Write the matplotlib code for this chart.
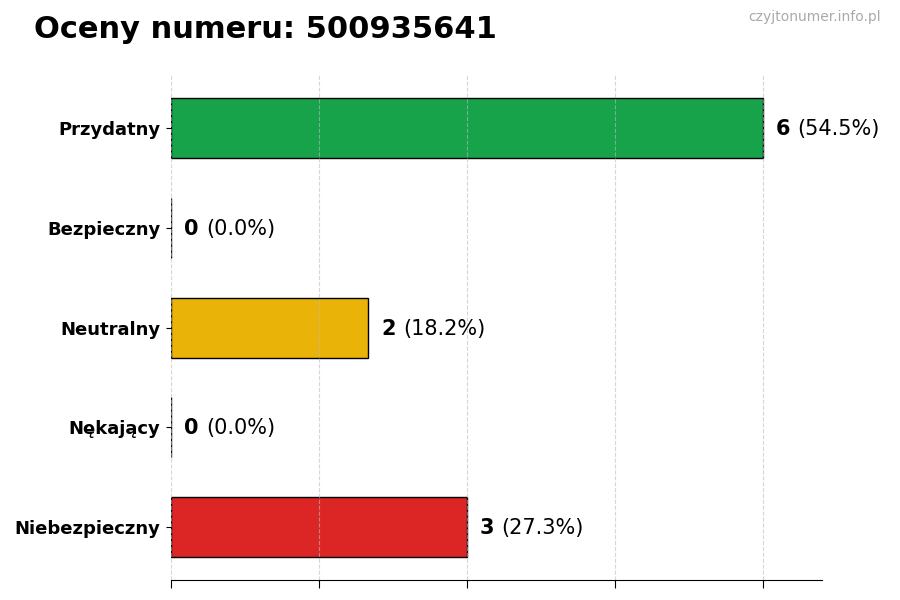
import matplotlib.pyplot as plt

categories = ["Przydatny", "Bezpieczny", "Neutralny", "Nękający", "Niebezpieczny"]
counts = [6, 0, 2, 0, 3]
percents = ["54.5%", "0.0%", "18.2%", "0.0%", "27.3%"]
colors = ["#16a34a", "#16a34a", "#eab308", "#f97316", "#dc2626"]

fig = plt.figure(figsize=(9, 6), dpi=100)
ax = fig.add_axes([0.19, 0.033, 0.723, 0.842])

y = list(range(len(categories)))
ax.barh(y, counts, height=0.6, color=colors, edgecolor="black", linewidth=1)
ax.set_yticks(y)
ax.set_yticklabels(categories, fontsize=13, fontweight="bold")
ax.invert_yaxis()
ax.set_xlim(0, max(counts) * 1.1)
ax.set_xticks([0, 1.5, 3, 4.5, 6])
ax.set_xticklabels([])
ax.tick_params(axis="x", length=6)
ax.tick_params(axis="y", pad=4)
for s in ["top", "right", "left"]:
    ax.spines[s].set_visible(False)
ax.set_axisbelow(False)
ax.grid(axis="x", linestyle="--", color="#bbbbbb", alpha=0.6, linewidth=0.8)

for i, (c, p) in enumerate(zip(counts, percents)):
    t = ax.text(c + 0.13, i + 0.01, str(c), fontsize=15, fontweight="bold", va="center", ha="left")
    ax.annotate(f"({p})", xy=(1, 0.5), xycoords=t, xytext=(5.5, 0),
                textcoords="offset points", fontsize=15, va="center", ha="left")

fig.text(0.038, 0.95, "Oceny numeru: 500935641", fontsize=22, fontweight="bold", va="center", ha="left")
fig.text(0.979, 0.971, "czyjtonumer.info.pl", fontsize=10, color="#aaaaaa", va="center", ha="right")

fig.savefig("out.png", dpi=100)
